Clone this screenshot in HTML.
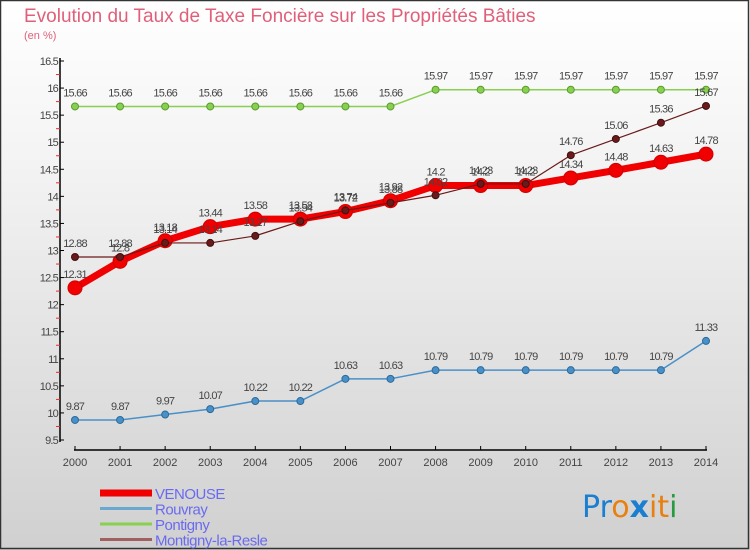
<!DOCTYPE html>
<html><head><meta charset="utf-8"><style>
body{margin:0;}
#wrap{width:750px;height:550px;position:relative;overflow:hidden;background:linear-gradient(#ffffff,#f3f3f3 30%,#d0d0d0);font-family:"Liberation Sans",sans-serif;}
svg{position:absolute;left:0;top:0;}
</style></head><body>
<div id="wrap">
<svg id="svg" width="750" height="550">
<rect x="0.5" y="0.5" width="748" height="548" fill="none" stroke="#333" stroke-width="1.5"/>
<text x="24" y="22" font-size="19" fill="#e0607a">Evolution du Taux de Taxe Foncière sur les Propriétés Bâties</text>
<text x="24" y="39" font-size="11" fill="#e0607a">(en %)</text>
<g id="axes"></g><g id="series"></g><g id="legend"></g>
<text x="582" y="517" font-size="30" font-family="'DejaVu Sans',sans-serif"><tspan fill="#1a7fd0">Pr</tspan><tspan fill="#e88010">o</tspan><tspan fill="#1a7fd0" font-weight="bold">x</tspan><tspan fill="#e88010">i</tspan><tspan fill="#e88010">t</tspan><tspan fill="#2a9a40">i</tspan></text>
</svg></div>
<script>
const years=[2000,2001,2002,2003,2004,2005,2006,2007,2008,2009,2010,2011,2012,2013,2014];
const venouse=[12.31,12.8,13.18,13.44,13.58,13.58,13.72,13.92,14.2,14.2,14.2,14.34,14.48,14.63,14.78];
const rouvray=[9.87,9.87,9.97,10.07,10.22,10.22,10.63,10.63,10.79,10.79,10.79,10.79,10.79,10.79,11.33];
const pontigny=[15.66,15.66,15.66,15.66,15.66,15.66,15.66,15.66,15.97,15.97,15.97,15.97,15.97,15.97,15.97];
const montigny=[12.88,12.88,13.14,13.14,13.27,13.54,13.74,13.88,14.02,14.23,14.23,14.76,15.06,15.36,15.67];
const yTicks=[9.5,10,10.5,11,11.5,12,12.5,13,13.5,14,14.5,15,15.5,16,16.5];
const seriesNames=["VENOUSE","Rouvray","Pontigny","Montigny-la-Resle"];
const NS="http://www.w3.org/2000/svg";
const x=i=>75+(706-75)*i/(years.length-1);
const y=v=>440-(v-9.5)*(379/7);
function mk(t,a,p){const e=document.createElementNS(NS,t);for(const k in a)e.setAttribute(k,a[k]);p.appendChild(e);return e;}
const ax=document.getElementById('axes');
let e=mk('line',{x1:60,y1:58,x2:60,y2:442,stroke:'#000','stroke-width':1.5},ax);


e=mk('line',{x1:74,y1:450,x2:707,y2:450,stroke:'#000','stroke-width':1.5},ax);


yTicks.forEach((v,i)=>{mk('line',{x1:60,y1:y(v),x2:64,y2:y(v),stroke:'#000'},ax);
 if(i<yTicks.length-1)mk('line',{x1:56,y1:y(v+0.25),x2:60,y2:y(v+0.25),stroke:'#e03030'},ax);
 const t=mk('text',{x:58,y:y(v)+4,'font-size':11,'text-anchor':'end',fill:'#444','letter-spacing':'-0.8'},ax);t.textContent=v;
 
 });
years.forEach((yr,i)=>{mk('line',{x1:x(i),y1:446,x2:x(i),y2:450,stroke:'#000'},ax);
 const t=mk('text',{x:x(i),y:466,'font-size':11,'text-anchor':'middle',fill:'#444'},ax);t.textContent=yr;
 
 });
const sg=document.getElementById('series');
function draw(data,name,color,w,r,stroke){
 const g=mk('g',{},sg);
 
 
 const pl=mk('polyline',{points:data.map((v,i)=>x(i)+','+y(v)).join(' '),fill:'none',stroke:color,'stroke-width':w,'stroke-linejoin':'round'},g);
 
 
 data.forEach((v,i)=>{const c=mk('circle',{cx:x(i),cy:y(v),r:r,fill:color,stroke:stroke,'stroke-width':1},g);
  
  
  const t=mk('text',{x:x(i),y:y(v)-10,'font-size':11,'text-anchor':'middle',fill:'#444','letter-spacing':'-0.8'},g);t.textContent=v;
  
  });
}
draw(pontigny,'pontigny','#88d050',1.5,3.5,'#5a9a30');
draw(rouvray,'rouvray','#4a90c8',1.5,3.5,'#2a6a9a');
draw(venouse,'venouse','#f00000',7,7,'#d00000');
draw(montigny,'montigny','#6a1a1a',1.2,3.5,'#401010');
const lg=document.getElementById('legend');
const lc=['#f00000','#6aa8d0','#88d050','#a06060'],lw=[7,3,3,3];
seriesNames.forEach((n,i)=>{const yy=493+i*15.5;
 const l=mk('line',{x1:100,y1:yy,x2:152,y2:yy,stroke:lc[i],'stroke-width':lw[i]},lg);
 
 
 const t=mk('text',{x:155,y:yy+6,'font-size':15,fill:'#6a6af0','letter-spacing':'-0.5'},lg);t.textContent=n;
 
 });
</script></body></html>
